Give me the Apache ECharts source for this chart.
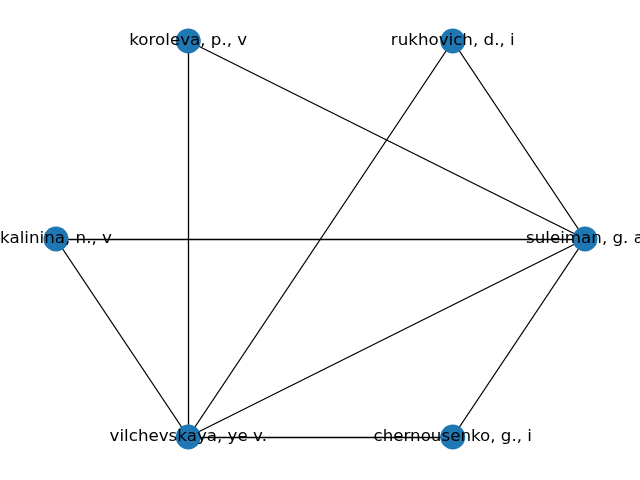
<!DOCTYPE html>
<html>
<head>
<meta charset="utf-8">
<script src="https://cdn.jsdelivr.net/npm/echarts@6/dist/echarts.min.js"></script>
<style>
  html, body { margin: 0; padding: 0; background: #fff; }
  #chart { width: 640px; height: 480px; }
</style>
</head>
<body>
<div id="chart"></div>
<script>
// nodes (circular layout coordinates)
const nodeNames = ['suleiman, g. a', 'rukhovich, d., i', 'koroleva, p., v',
                   'kalinina, n., v', 'vilchevskaya, ye v.', 'chernousenko, g., i']
const nodeX = [1, 0.5, -0.5, -1, -0.5, 0.5]
const nodeY = [0, 0.866, 0.866, 0, -0.866, -0.866]

// edges
const edgeFrom = ['koroleva, p., v', 'koroleva, p., v', 'rukhovich, d., i', 'rukhovich, d., i',
                  'kalinina, n., v', 'kalinina, n., v', 'suleiman, g. a', 'suleiman, g. a',
                  'vilchevskaya, ye v.']
const edgeTo = ['suleiman, g. a', 'vilchevskaya, ye v.', 'suleiman, g. a', 'vilchevskaya, ye v.',
                'suleiman, g. a', 'vilchevskaya, ye v.', 'vilchevskaya, ye v.', 'chernousenko, g., i',
                'chernousenko, g., i']

var myChart = echarts.init(document.getElementById('chart'))

let nodes = nodeNames.map((n, i) => ({ name: n, value: [nodeX[i], nodeY[i]] }))
let links = edgeFrom.map((s, i) => ({ source: s, target: edgeTo[i] }))

myChart.setOption({
    animation: false,
    grid: { left: 56, right: 55, top: 41, bottom: 43 },
    xAxis: { type: 'value', min: -1, max: 1, show: false },
    yAxis: { type: 'value', min: -0.866, max: 0.866, show: false },
    series: [{
        type: 'graph',
        coordinateSystem: 'cartesian2d',
        symbol: 'circle',
        symbolSize: 25,
        itemStyle: { color: '#1f77b4' },
        label: {
            show: true,
            position: 'inside',
            color: '#000',
            fontSize: 16.7,
            fontFamily: 'DejaVu Sans'
        },
        lineStyle: { color: '#000', width: 1.3, opacity: 1 },
        emphasis: { disabled: true },
        data: nodes,
        links: links
    }]
})
</script>
</body>
</html>
